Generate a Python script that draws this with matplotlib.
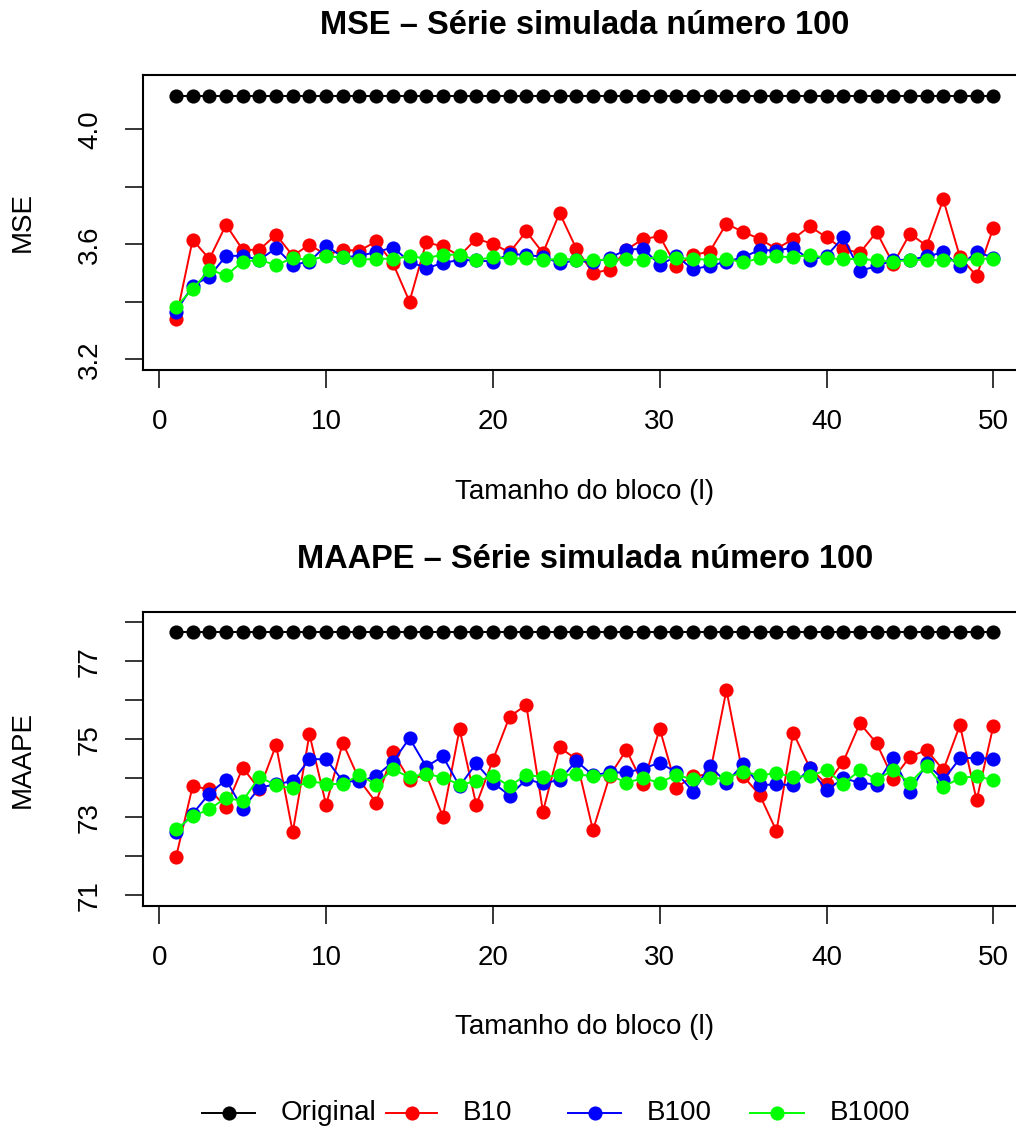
import matplotlib
matplotlib.use("Agg")
import matplotlib.pyplot as plt
from matplotlib.lines import Line2D

plt.rcParams['font.family'] = ['Liberation Sans', 'DejaVu Sans']

blocks = list(range(1, 51))
series_names = ['Original', 'B10', 'B100', 'B1000']
series_colors = ['black', '#FF0000', '#0000FF', '#00FF00']

# MSE
mse_original = [4.117] * 50
mse_b10 = [3.340, 3.616, 3.549, 3.668, 3.581, 3.581, 3.634, 3.560, 3.599, 3.563,
           3.581, 3.578, 3.610, 3.535, 3.401, 3.607, 3.593, 3.560, 3.619, 3.602,
           3.572, 3.645, 3.570, 3.709, 3.585, 3.500, 3.512, 3.581, 3.619, 3.628,
           3.523, 3.563, 3.575, 3.672, 3.643, 3.619, 3.584, 3.619, 3.663, 3.624,
           3.584, 3.570, 3.643, 3.532, 3.637, 3.595, 3.756, 3.556, 3.490, 3.657]
mse_b100 = [3.366, 3.456, 3.488, 3.560, 3.560, 3.546, 3.587, 3.529, 3.540, 3.596,
            3.555, 3.560, 3.573, 3.589, 3.540, 3.517, 3.535, 3.546, 3.544, 3.540,
            3.567, 3.563, 3.557, 3.535, 3.544, 3.537, 3.553, 3.581, 3.585, 3.529,
            3.558, 3.514, 3.525, 3.540, 3.555, 3.581, 3.578, 3.589, 3.546, 3.560,
            3.624, 3.509, 3.523, 3.546, 3.546, 3.558, 3.572, 3.523, 3.575, 3.553]
mse_b1000 = [3.383, 3.444, 3.512, 3.492, 3.540, 3.546, 3.528, 3.552, 3.546, 3.558,
             3.555, 3.546, 3.550, 3.550, 3.558, 3.552, 3.564, 3.564, 3.546, 3.555,
             3.551, 3.551, 3.545, 3.550, 3.546, 3.546, 3.546, 3.548, 3.546, 3.558,
             3.552, 3.550, 3.546, 3.550, 3.537, 3.552, 3.558, 3.555, 3.564, 3.552,
             3.548, 3.550, 3.544, 3.540, 3.546, 3.546, 3.544, 3.544, 3.550, 3.550]

# MAAPE
maape_original = [77.74] * 50
maape_b10 = [71.98, 73.80, 73.72, 73.26, 74.27, 73.72, 74.85, 72.62, 75.13, 73.32,
             74.91, 73.95, 73.38, 74.67, 73.96, 74.10, 73.02, 75.26, 73.32, 74.47,
             75.58, 75.88, 73.15, 74.79, 74.49, 72.67, 74.06, 74.73, 73.85, 75.27,
             73.76, 74.06, 74.10, 76.26, 74.06, 73.57, 72.65, 75.17, 74.27, 73.85,
             74.42, 75.41, 74.90, 73.99, 74.55, 74.73, 74.21, 75.36, 73.44, 75.34]
maape_b100 = [72.62, 73.09, 73.61, 73.96, 73.22, 73.76, 73.85, 73.93, 74.49, 74.49,
              73.93, 73.92, 74.06, 74.42, 75.03, 74.30, 74.56, 73.80, 74.38, 73.89,
              73.56, 73.97, 73.87, 73.96, 74.44, 74.08, 74.15, 74.15, 74.25, 74.40,
              74.15, 73.66, 74.32, 73.89, 74.36, 73.82, 73.85, 73.82, 74.26, 73.69,
              74.00, 73.89, 73.84, 74.53, 73.65, 74.38, 73.96, 74.51, 74.53, 74.49]
maape_b1000 = [72.69, 73.03, 73.21, 73.50, 73.42, 74.04, 73.82, 73.74, 73.93, 73.86,
               73.85, 74.09, 73.84, 74.23, 74.03, 74.12, 74.02, 73.84, 73.92, 74.06,
               73.80, 74.09, 74.03, 74.08, 74.10, 74.06, 74.08, 73.89, 74.00, 73.89,
               74.09, 73.97, 74.00, 74.00, 74.17, 74.08, 74.13, 74.04, 74.06, 74.21,
               73.85, 74.21, 73.97, 74.21, 73.88, 74.32, 73.79, 74.00, 74.06, 73.95]

x_ticks = [0, 10, 20, 30, 40, 50]
mse_ticks = [3.2, 3.4, 3.6, 3.8, 4.0]
mse_ticklabels = ['3.2', '', '3.6', '', '4.0']
maape_ticks = [71, 72, 73, 74, 75, 76, 77, 78]
maape_ticklabels = ['71', '', '73', '', '75', '', '77', '']

W, H = 1016, 1131
fig = plt.figure(figsize=(W / 100, H / 100), dpi=100)

def px_axes(left, top, right, bottom):
    return fig.add_axes([left / W, 1 - bottom / H, (right - left) / W, (bottom - top) / H])

ax1 = px_axes(143.3, 75, 1026, 370)
ax2 = px_axes(143.3, 612, 1026, 906)

panels = [
    (ax1, [mse_original, mse_b10, mse_b100, mse_b1000], 'MSE',
     'MSE – Série simulada número 100', (3.163, 4.189), mse_ticks, mse_ticklabels,
     (370 - 25) / 295, (370 - 492) / 295),
    (ax2, [maape_original, maape_b10, maape_b100, maape_b1000], 'MAAPE',
     'MAAPE – Série simulada número 100', (70.73, 78.26), maape_ticks, maape_ticklabels,
     (906 - 560) / 294, (906 - 1027) / 294),
]

MS = 10.2

for ax, data, ylab, title, ylim, yt, ytl, title_y, xlab_y in panels:
    for vals, col in zip(data, series_colors):
        ax.plot(blocks, vals, '-o', color=col, lw=1.4, markersize=MS,
                markeredgewidth=0, clip_on=False)
    ax.set_xlim(-0.96, 51.96)
    ax.set_ylim(*ylim)
    ax.set_xticks(x_ticks)
    ax.set_yticks(yt)
    ax.set_yticklabels(ytl)
    ax.tick_params(axis='both', direction='out', length=13, width=1.1,
                   labelsize=20, colors='black')
    ax.tick_params(axis='x', pad=15)
    ax.tick_params(axis='y', pad=16)
    for lbl in ax.get_yticklabels():
        lbl.set_rotation(90)
        lbl.set_va('center')
    for sp in ax.spines.values():
        sp.set_linewidth(1.5)
    ax.set_xlabel('Tamanho do bloco (l)', fontsize=20)
    ax.xaxis.label.set_va('center')
    ax.xaxis.set_label_coords(0.5, xlab_y)
    ax.set_ylabel(ylab, fontsize=20)
    ax.yaxis.label.set_va('center')
    ax.yaxis.set_label_coords(-0.1363, 0.5)
    ax.set_title(title, fontsize=23.5, fontweight='bold', pad=0, va='center', y=title_y)

# legend row at the bottom
leg_y = 1 - 1113 / H
leg_line_x = [(202, 255), (386, 437), (568, 621), (750, 804)]
leg_text_x = [281, 463, 647, 830]
for name, col, (x0, x1), tx in zip(series_names, series_colors, leg_line_x, leg_text_x):
    fig.add_artist(Line2D([x0 / W, x1 / W], [leg_y, leg_y], color=col, lw=1.4,
                          transform=fig.transFigure))
    fig.add_artist(Line2D([(x0 + x1) / 2 / W], [leg_y], color=col, marker='o',
                          markersize=MS, markeredgewidth=0, transform=fig.transFigure))
    fig.text(tx / W, leg_y, name, fontsize=20, ha='left', va='center')

fig.savefig('out.png', dpi=100)
plt.close(fig)
